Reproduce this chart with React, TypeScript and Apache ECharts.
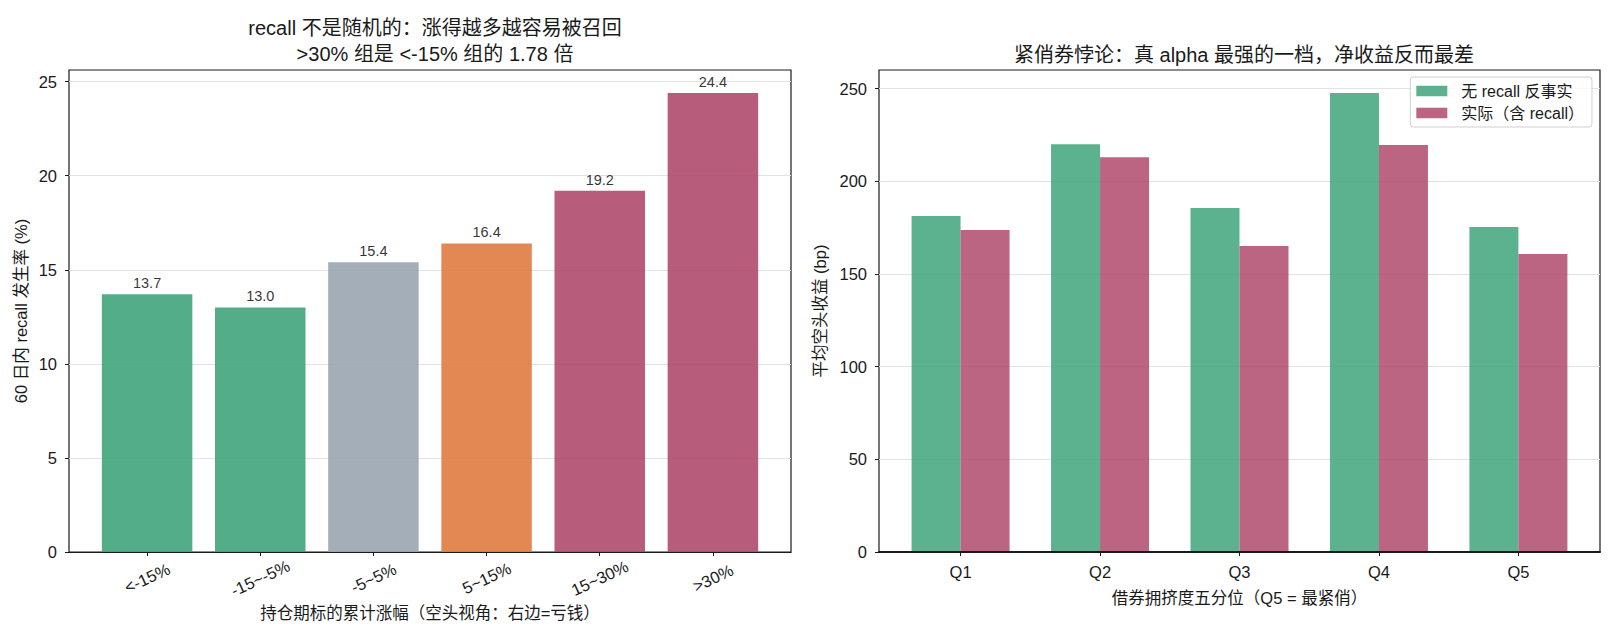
import { useEffect, useRef } from "react";
import * as echarts from "echarts";

// left panel: recall rate by cumulative move of the shorted stock
const moveBuckets = ["<-15%", "-15~-5%", "-5~5%", "5~15%", "15~30%", ">30%"];
const recallRates = [13.7, 13.0, 15.4, 16.4, 19.2, 24.4];
const rateTicks = [0, 5, 10, 15, 20, 25];

// right panel: average short return by borrow crowding quintile
const quintiles = ["Q1", "Q2", "Q3", "Q4", "Q5"];
const noRecallReturns = [181.2, 220.0, 185.5, 247.6, 175.3];
const actualReturns = [173.7, 213.0, 165.0, 219.5, 160.7];
const returnTicks = [0, 50, 100, 150, 200, 250];

const bucketColors = ["#3fa47b", "#3fa47b", "#9aa5b0", "#df7b3f", "#af4a6c", "#af4a6c"];
const greenColor = "#3fa47b";
const pinkColor = "#af4a6c";

const FONT = '"Liberation Sans", "Noto Sans CJK SC", sans-serif';
const TEXT = "#1a1a1a";

export default function App() {
  const chartRef = useRef<HTMLDivElement>(null);

  useEffect(() => {
    if (!chartRef.current) return;
    const chart = echarts.init(chartRef.current, null, { renderer: "svg" });

    const tickLabel = { color: TEXT, fontFamily: FONT, fontSize: 16.5 };
    const axisName = { color: TEXT, fontFamily: FONT, fontSize: 16.5 };
    const tickStyle = { color: TEXT, width: 1 };
    const gridLine = { lineStyle: { color: "#e2e2e2", width: 1 } };

    const bucketIdx = moveBuckets.map((_, i) => i);
    const quintileIdx = quintiles.map((_, i) => i);

    chart.setOption({
      animation: false,
      textStyle: { fontFamily: FONT },
      title: [
        {
          text: "recall 不是随机的：涨得越多越容易被召回\n>30% 组是 <-15% 组的 1.78 倍",
          left: 430,
          top: 10.5,
          textAlign: "center",
          textStyle: { color: TEXT, fontFamily: FONT, fontSize: 20, lineHeight: 25.6, fontWeight: "normal" },
        },
        {
          text: "紧俏券悖论：真 alpha 最强的一档，净收益反而最差",
          left: 1239,
          top: 37.5,
          textAlign: "center",
          textStyle: { color: TEXT, fontFamily: FONT, fontSize: 20, lineHeight: 25.6, fontWeight: "normal" },
        },
      ],
      legend: {
        data: ["无 recall 反事实", "实际（含 recall）"],
        orient: "vertical",
        right: 20,
        top: 77,
        icon: "rect",
        itemWidth: 31,
        itemHeight: 10.5,
        itemGap: 6,
        padding: [6, 8, 6, 6],
        borderColor: "#d0d0d0",
        borderWidth: 1,
        borderRadius: 3,
        backgroundColor: "rgba(255,255,255,0.8)",
        textStyle: { color: TEXT, fontFamily: FONT, fontSize: 16, padding: [0, 0, 0, 9] },
      },
      grid: [
        { left: 69, top: 70, right: 821, bottom: 84, show: true, borderColor: TEXT, borderWidth: 1.2 },
        { left: 879, top: 70, right: 12, bottom: 84, show: true, borderColor: TEXT, borderWidth: 1.2 },
      ],
      xAxis: [
        {
          type: "value",
          gridIndex: 0,
          min: -0.69,
          max: 5.69,
          z: 5,
          name: "持仓期标的累计涨幅（空头视角：右边=亏钱）",
          nameLocation: "middle",
          nameGap: 52,
          nameTextStyle: axisName,
          axisLine: { show: true, onZero: false, lineStyle: { color: TEXT, width: 1.2 } },
          axisTick: { show: true, customValues: bucketIdx, length: 4, lineStyle: tickStyle },
          axisLabel: {
            ...tickLabel,
            customValues: bucketIdx,
            formatter: (v: number) => moveBuckets[Math.round(v)],
            rotate: 25,
            align: "center",
            verticalAlign: "middle",
            margin: 26,
          },
          splitLine: { show: false },
        },
        {
          type: "value",
          gridIndex: 1,
          min: -0.585,
          max: 4.585,
          z: 5,
          name: "借券拥挤度五分位（Q5 = 最紧俏）",
          nameLocation: "middle",
          nameGap: 38,
          nameTextStyle: axisName,
          axisLine: { show: true, onZero: false, lineStyle: { color: TEXT, width: 2 } },
          axisTick: { show: true, customValues: quintileIdx, length: 4, lineStyle: tickStyle },
          axisLabel: {
            ...tickLabel,
            customValues: quintileIdx,
            formatter: (v: number) => quintiles[Math.round(v)],
            margin: 12,
          },
          splitLine: { show: false },
        },
      ],
      yAxis: [
        {
          type: "value",
          gridIndex: 0,
          min: 0,
          max: 25.62,
          interval: 5,
          name: "60 日内 recall 发生率 (%)",
          nameLocation: "middle",
          nameGap: 40,
          nameTextStyle: axisName,
          axisLine: { show: false, onZero: false },
          axisTick: { show: true, customValues: rateTicks, length: 4, lineStyle: tickStyle },
          axisLabel: { ...tickLabel, customValues: rateTicks, margin: 12 },
          splitLine: gridLine,
        },
        {
          type: "value",
          gridIndex: 1,
          min: 0,
          max: 260,
          interval: 50,
          name: "平均空头收益 (bp)",
          nameLocation: "middle",
          nameGap: 51,
          nameTextStyle: axisName,
          axisLine: { show: false, onZero: false },
          axisTick: { show: true, customValues: returnTicks, length: 4, lineStyle: tickStyle },
          axisLabel: { ...tickLabel, customValues: returnTicks, margin: 12 },
          splitLine: gridLine,
        },
      ],
      series: [
        {
          type: "bar",
          xAxisIndex: 0,
          yAxisIndex: 0,
          barWidth: 90.5,
          data: recallRates.map((v, i) => ({
            value: [i, v],
            itemStyle: { color: bucketColors[i], opacity: 0.9 },
          })),
          label: {
            show: true,
            position: "top",
            distance: 4,
            color: TEXT,
            fontFamily: FONT,
            fontSize: 14.5,
            formatter: (p: any) => p.value[1].toFixed(1),
          },
        },
        {
          name: "无 recall 反事实",
          type: "bar",
          xAxisIndex: 1,
          yAxisIndex: 1,
          barWidth: 49,
          barGap: "0%",
          itemStyle: { color: greenColor, opacity: 0.85 },
          data: noRecallReturns.map((v, i) => [i, v]),
        },
        {
          name: "实际（含 recall）",
          type: "bar",
          xAxisIndex: 1,
          yAxisIndex: 1,
          barWidth: 49,
          barGap: "0%",
          itemStyle: { color: pinkColor, opacity: 0.85 },
          data: actualReturns.map((v, i) => [i, v]),
        },
      ],
    });

    return () => {
      chart.dispose();
    };
  }, []);

  return (
    <div
      ref={chartRef}
      style={{ position: "fixed", left: 0, top: 0, width: "1612px", height: "636px", background: "#fff" }}
    ></div>
  );
}
